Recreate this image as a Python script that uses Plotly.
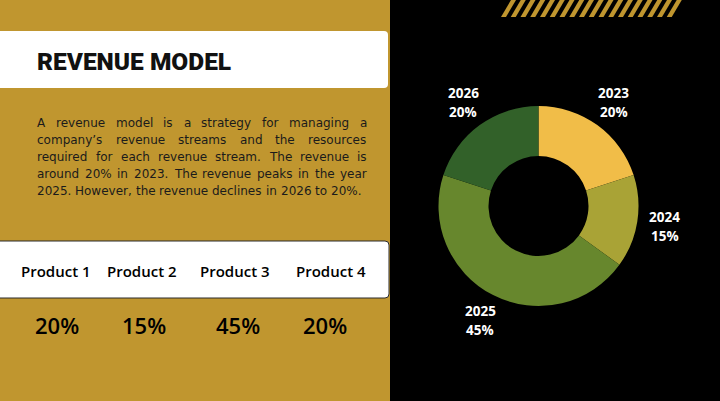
import numpy as np
import plotly.graph_objects as go

# ---------------- data ----------------
years = ["2023", "2024", "2025", "2026"]
shares = [20, 15, 45, 20]
slice_colors = ["#F1BD48", "#A9A336", "#67872D", "#326129"]

products = ["Product 1", "Product 2", "Product 3", "Product 4"]
product_shares = ["20%", "15%", "45%", "20%"]
product_x = [56, 142, 235, 331]
share_x = [57, 144, 238, 325]

title_text = "REVENUE MODEL"
paragraph_lines = [
    "A revenue model is a strategy for managing a",
    "company\u2019s revenue streams and the resources",
    "required for each revenue stream. The revenue is",
    "around 20% in 2023. The revenue peaks in the year",
    "2025. However, the revenue declines in 2026 to 20%.",
]

# ---------------- layout constants (pixels) ----------------
W, H = 720, 401
GOLD = "#C0962F"
cx, cy, R = 538.5, 206.0, 100.0
label_r = 128.0

# approximate DejaVu Sans advance widths (units of 1/2048 em) for justification
DJV = {" ": 651, "a": 1255, "b": 1300, "c": 1126, "d": 1300, "e": 1260, "f": 721,
       "g": 1300, "h": 1298, "i": 569, "j": 569, "k": 1186, "l": 569, "m": 1995,
       "n": 1298, "o": 1253, "p": 1300, "q": 1300, "r": 842, "s": 1067, "t": 803,
       "u": 1298, "v": 1212, "w": 1675, "x": 1212, "y": 1212, "z": 1075,
       "A": 1401, "H": 1540, "T": 1251, ".": 651, ",": 651, "%": 1946,
       "'": 563, "\u2019": 651}
for dgt in "0123456789":
    DJV[dgt] = 1303
PSIZE = 12.0


def text_w(s):
    return sum(DJV.get(ch, 1250) for ch in s) / 2048.0 * PSIZE


fig = go.Figure()

# donut
fig.add_trace(go.Pie(
    labels=years, values=shares, hole=0.5, sort=False,
    direction="clockwise", rotation=0,
    marker=dict(colors=slice_colors, line=dict(width=0)),
    textinfo="none", hoverinfo="label+percent", showlegend=False,
    domain=dict(x=[(cx - R) / W, (cx + R) / W],
                y=[1 - (cy + R) / H, 1 - (cy - R) / H]),
))

# invisible scatter to activate pixel axes
fig.add_trace(go.Scatter(x=[0, W], y=[0, H], mode="markers",
                         marker=dict(opacity=0), hoverinfo="skip",
                         showlegend=False))

shapes = []
shapes.append(dict(type="rect", x0=0, x1=390, y0=0, y1=H,
                   fillcolor=GOLD, line=dict(width=0), layer="below"))
shapes.append(dict(type="path",
                   path="M 0,31 L 384,31 Q 388,31 388,35 L 388,84 Q 388,88 384,88 L 0,88 Z",
                   fillcolor="white", line=dict(width=0), layer="below"))
shapes.append(dict(type="path",
                   path="M -2,241 L 385,241 Q 389,241 389,245 L 389,294 Q 389,298 385,298 L -2,298 Z",
                   fillcolor="white", line=dict(width=1, color="#2a2a2a"), layer="below"))
period = 9.75
for i in range(18):
    x0 = 501 + i * period
    shapes.append(dict(type="path",
                       path=f"M {x0},17 L {x0+5},17 L {x0+15},0 L {x0+10},0 Z",
                       fillcolor=GOLD, line=dict(width=0), layer="below"))

annotations = []
annotations.append(dict(x=35, y=61, xref="x", yref="y", text=title_text,
                        showarrow=False, xanchor="left", yanchor="middle",
                        font=dict(family="Roboto", size=24.5, color="#111111", weight=900)))

# justified paragraph
LEFT, RIGHT = 36.0, 366.0
space_w = text_w(" ")
for k, line in enumerate(paragraph_lines):
    yy = 122.5 + 17 * k
    words = line.split(" ")
    widths = [text_w(w_) for w_ in words]
    if k < len(paragraph_lines) - 1 and len(words) > 1:
        gap = (RIGHT - LEFT - sum(widths)) / (len(words) - 1)
    else:
        gap = space_w
    xpos = LEFT
    for w_, ww in zip(words, widths):
        annotations.append(dict(x=xpos, y=yy, xref="x", yref="y", text=w_,
                                showarrow=False, xanchor="left", yanchor="middle",
                                borderpad=0,
                                font=dict(family="DejaVu Sans", size=PSIZE, color="#1b1b1b")))
        xpos += ww + gap

for p, px in zip(products, product_x):
    annotations.append(dict(x=px, y=271, xref="x", yref="y", text=p, showarrow=False,
                            xanchor="center", yanchor="middle",
                            font=dict(family="Open Sans", size=15, color="#000000", weight=600)))
for s, px in zip(product_shares, share_x):
    annotations.append(dict(x=px, y=325, xref="x", yref="y", text=s, showarrow=False,
                            xanchor="center", yanchor="middle",
                            font=dict(family="Open Sans", size=22, color="#000000", weight=600)))

vals = np.array(shares, dtype=float)
cum = np.cumsum(vals) - vals / 2
theta = cum / vals.sum() * 2 * np.pi
for yr, v, t in zip(years, shares, theta):
    lx = cx + label_r * np.sin(t)
    ly = cy - label_r * np.cos(t)
    annotations.append(dict(x=lx, y=ly - 9.5, xref="x", yref="y", text=f"<b>{yr}</b>",
                            showarrow=False, xanchor="center", yanchor="middle",
                            font=dict(family="Open Sans", size=13.5, color="white")))
    annotations.append(dict(x=lx, y=ly + 9.5, xref="x", yref="y", text=f"<b>{v}%</b>",
                            showarrow=False, xanchor="center", yanchor="middle",
                            font=dict(family="Open Sans", size=13.5, color="white")))

fig.update_layout(
    width=W, height=H, margin=dict(l=0, r=0, t=0, b=0),
    paper_bgcolor="black", plot_bgcolor="rgba(0,0,0,0)",
    xaxis=dict(range=[0, W], visible=False, fixedrange=True),
    yaxis=dict(range=[H, 0], visible=False, fixedrange=True),
    shapes=shapes, annotations=annotations,
)

fig.write_html("out.html", config={"displayModeBar": False},
               post_script="document.body.style.margin='0';document.body.style.background='black';")
